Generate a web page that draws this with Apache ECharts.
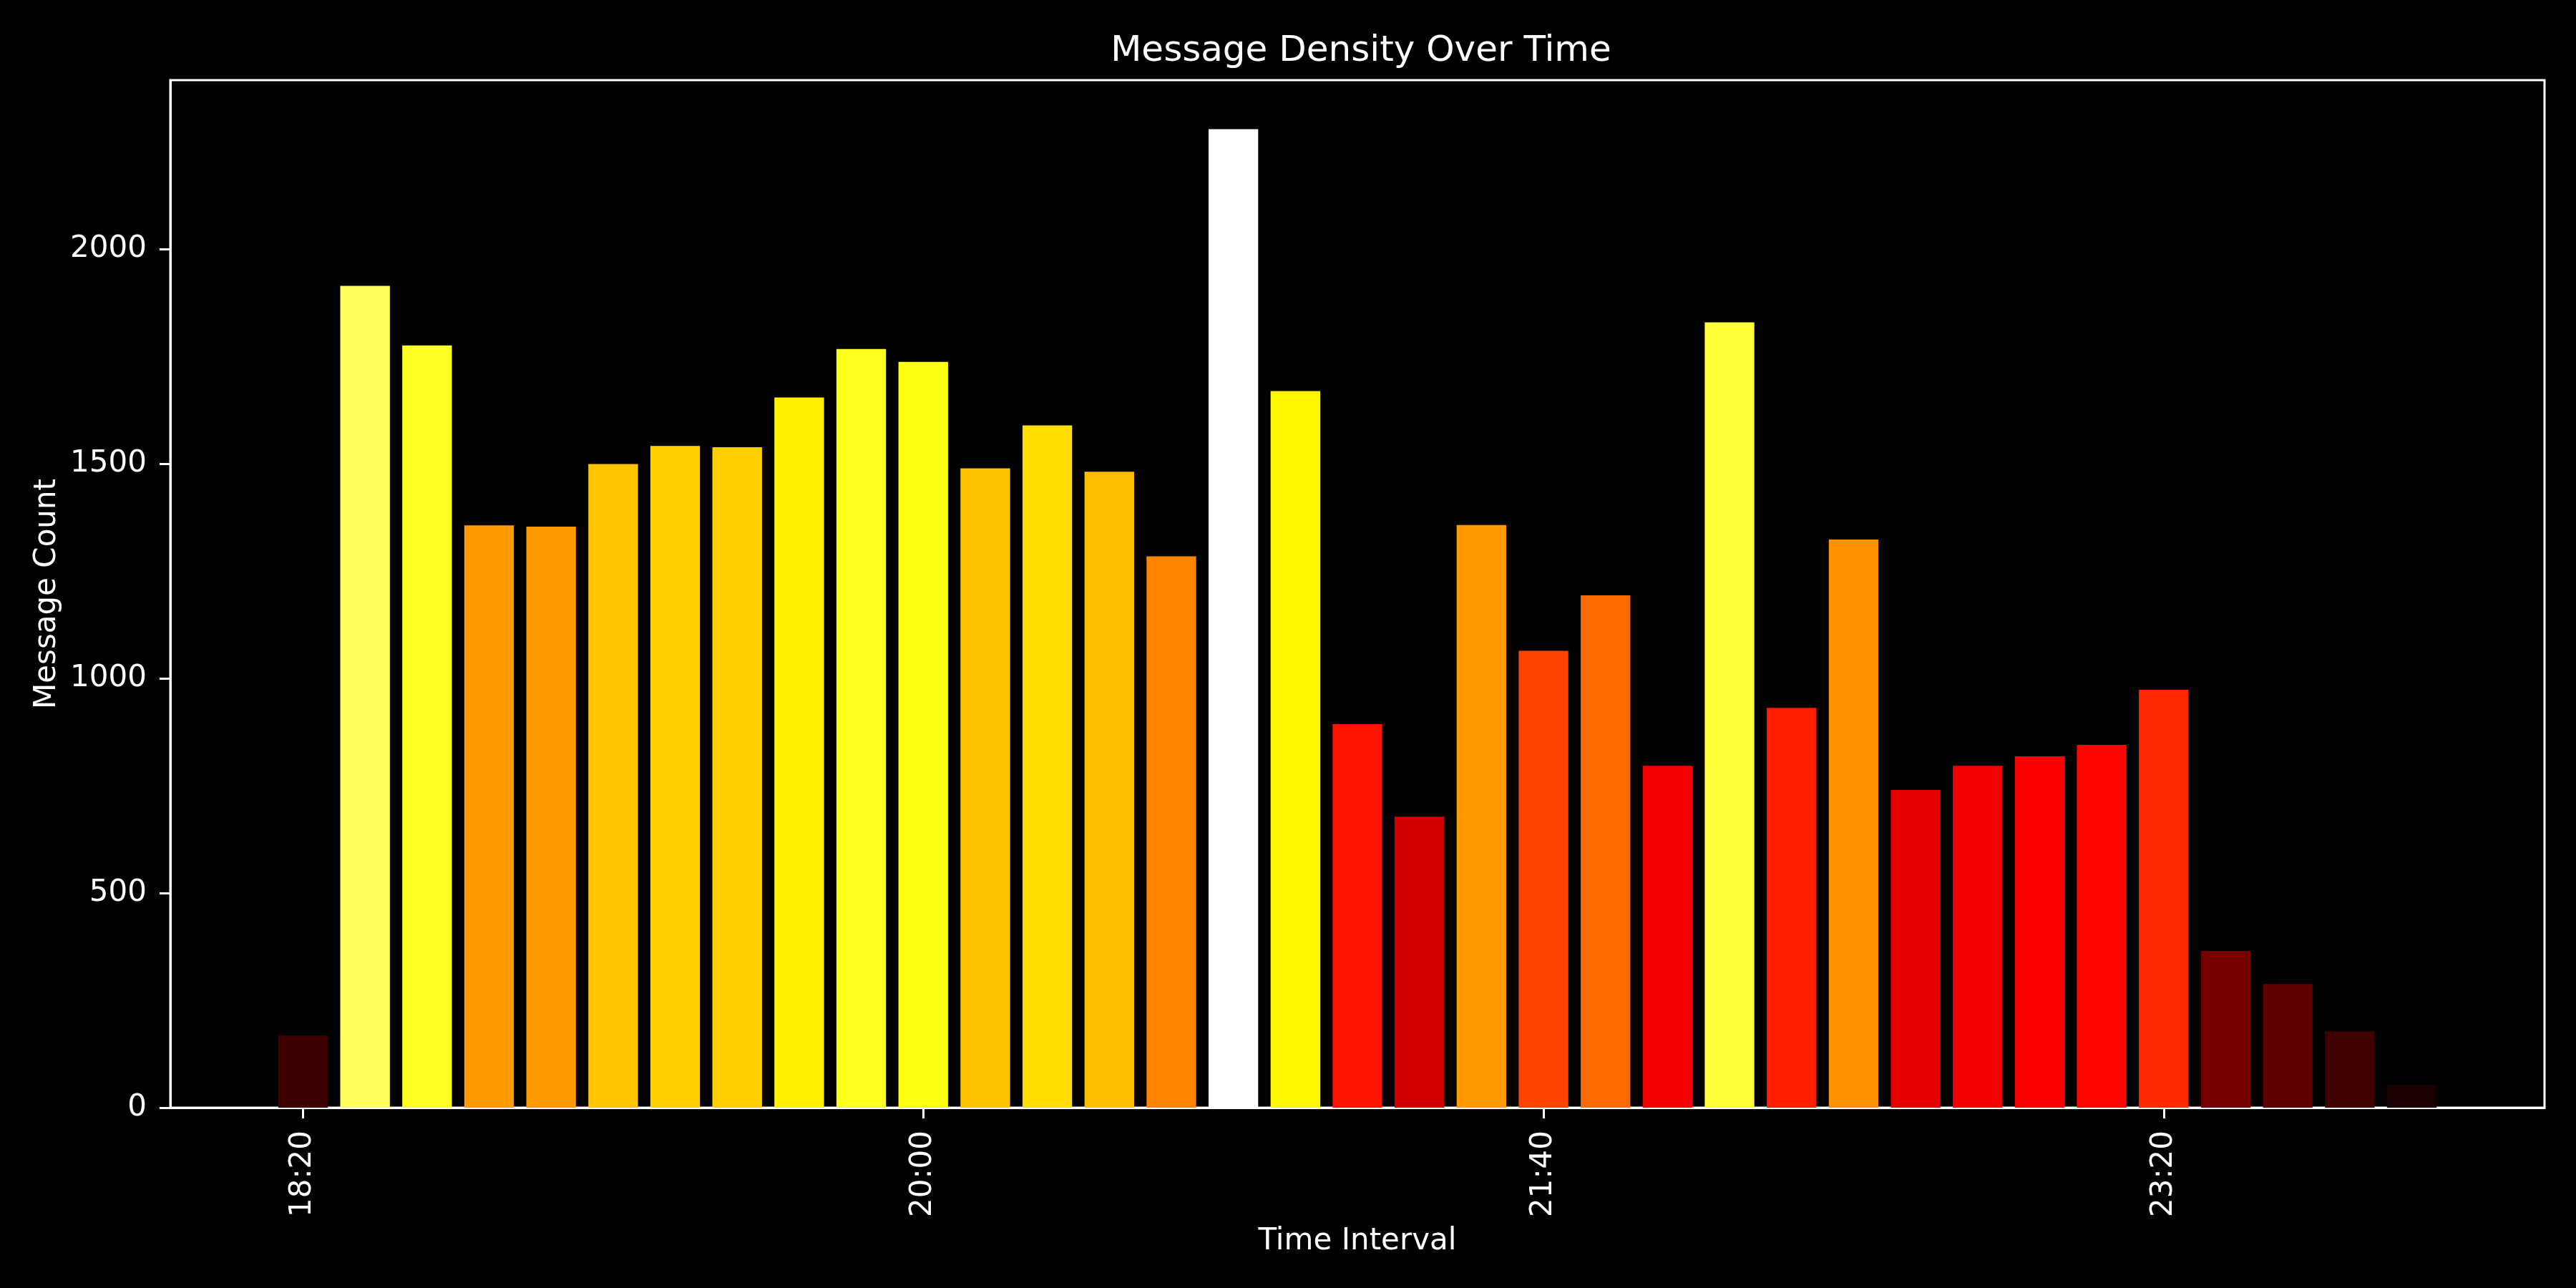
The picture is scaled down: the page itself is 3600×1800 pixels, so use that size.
<!DOCTYPE html>
<html>
<head>
<meta charset="utf-8">
<script src="https://cdn.jsdelivr.net/npm/echarts@6/dist/echarts.min.js"></script>
<style>
  html, body { margin: 0; padding: 0; background: #000; }
  #chart { width: 3600px; height: 1800px; }
</style>
</head>
<body>
<div id="chart"></div>
<script>
// 10-minute buckets
const times = [
  '18:20', '18:30', '18:40', '18:50',
  '19:00', '19:10', '19:20', '19:30', '19:40', '19:50',
  '20:00', '20:10', '20:20', '20:30', '20:40', '20:50',
  '21:00', '21:10', '21:20', '21:30', '21:40', '21:50',
  '22:00', '22:10', '22:20', '22:30', '22:40', '22:50',
  '23:00', '23:10', '23:20', '23:30', '23:40', '23:50',
  '00:00'
];
const counts = [
  168, 1914, 1775, 1356, 1353, 1499, 1541, 1538, 1654, 1767,
  1737, 1489, 1589, 1481, 1284, 2279, 1669, 893, 678, 1357,
  1064, 1193, 796, 1829, 931, 1323, 740, 796, 818, 845,
  973, 365, 288, 178, 53
];
const xTickLabels = ['18:20', '20:00', '21:40', '23:20'];
const yTicks = [0, 500, 1000, 1500, 2000];

function toMinutes(t) {
  const [h, m] = t.split(':').map(Number);
  return (h < 12 ? h + 24 : h) * 60 + m; // past midnight rolls over
}
function toLabel(v) {
  const h = Math.floor(v / 60) % 24, m = v % 60;
  return String(h).padStart(2, '0') + ':' + String(m).padStart(2, '0');
}

// matplotlib 'hot' colormap
function hot(t) {
  const c = x => Math.max(0, Math.min(1, x));
  const r = c(0.0416 + t * (1 - 0.0416) / 0.365079);
  const g = c((t - 0.365079) / (0.746032 - 0.365079));
  const b = c((t - 0.746032) / (1 - 0.746032));
  return 'rgb(' + [r, g, b].map(v => Math.round(v * 255)).join(',') + ')';
}

const maxCount = Math.max(...counts);
const xs = times.map(toMinutes);
const step = 10;
const span = (xs[xs.length - 1] - xs[0]) + step * 0.8;
const xMin = xs[0] - step * 0.4 - span * 0.05;
const xMax = xs[xs.length - 1] + step * 0.4 + span * 0.05;

const gridLeft = 238, gridRight = 44, gridTop = 112, gridBottom = 252;
const font = 'DejaVu Sans';

const chart = echarts.init(document.getElementById('chart'));
const option = {
  backgroundColor: '#000',
  animation: false,
  title: {
    text: 'Message Density Over Time',
    left: gridLeft + (3600 - gridLeft - gridRight) / 2,
    textAlign: 'center',
    top: 42,
    textStyle: { color: '#fff', fontFamily: font, fontSize: 50, fontWeight: 'normal' }
  },
  grid: {
    left: gridLeft,
    right: gridRight,
    top: gridTop,
    bottom: gridBottom,
    show: true,
    borderColor: '#fff',
    borderWidth: 3,
    backgroundColor: '#000'
  },
  xAxis: {
    type: 'value',
    min: xMin,
    max: xMax,
    name: 'Time Interval',
    nameLocation: 'middle',
    nameGap: 166,
    nameTextStyle: { color: '#fff', fontFamily: font, fontSize: 42 },
    axisLine: { show: true, onZero: false, lineStyle: { color: '#fff', width: 3 } },
    axisTick: {
      show: true, length: 15, lineStyle: { color: '#fff', width: 3 },
      customValues: xTickLabels.map(toMinutes)
    },
    axisLabel: {
      color: '#fff', fontFamily: font, fontSize: 42, rotate: 90, margin: 32,
      customValues: xTickLabels.map(toMinutes),
      formatter: v => toLabel(v)
    },
    splitLine: { show: false }
  },
  yAxis: {
    type: 'value',
    min: 0,
    max: maxCount * 1.05,
    name: 'Message Count',
    nameLocation: 'middle',
    nameGap: 150,
    nameTextStyle: { color: '#fff', fontFamily: font, fontSize: 42 },
    axisLine: { show: true, lineStyle: { color: '#fff', width: 3 } },
    axisTick: {
      show: true, length: 15, lineStyle: { color: '#fff', width: 3 },
      customValues: yTicks
    },
    axisLabel: {
      color: '#fff', fontFamily: font, fontSize: 42, margin: 33,
      customValues: yTicks,
      formatter: v => String(v)
    },
    splitLine: { show: false }
  },
  series: [
    {
      type: 'bar',
      barWidth: '80%',
      data: xs.map((x, i) => ({
        value: [x, counts[i]],
        itemStyle: { color: hot(counts[i] / maxCount) }
      }))
    }
  ]
};
chart.setOption(option);
</script>
</body>
</html>
